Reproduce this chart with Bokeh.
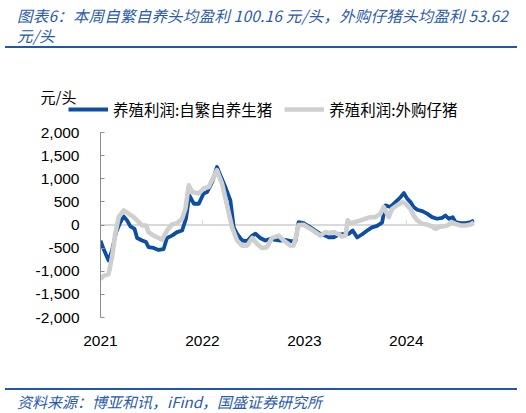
import pandas as pd
from bokeh.plotting import figure
from bokeh.models import (Range1d, FixedTicker, NumeralTickFormatter, DatetimeTickFormatter,
                          Span, Legend, LegendItem, Label, Div, ColumnDataSource)
from bokeh.layouts import column
from bokeh.embed import file_html
from bokeh.resources import INLINE

# ---------------- data ----------------
title_line1 = "图表6：本周自繁自养头均盈利 100.16 元/头，外购仔猪头均盈利 53.62"
title_line2 = "元/头"
source_text = "资料来源：博亚和讯，iFind，国盛证券研究所"
unit_label = "元/头"
series_names = ["养殖利润:自繁自养生猪", "养殖利润:外购仔猪"]

blue_dates = ["2021-01-01", "2021-01-12", "2021-01-30", "2021-02-11", "2021-02-26", "2021-03-13",
              "2021-03-25", "2021-04-06", "2021-04-18", "2021-05-03", "2021-05-12", "2021-05-30",
              "2021-06-13", "2021-06-22", "2021-07-10", "2021-07-28", "2021-08-15", "2021-08-27",
              "2021-09-14", "2021-10-02", "2021-10-20", "2021-11-03", "2021-11-15", "2021-12-01",
              "2021-12-19",
              "2022-01-05", "2022-01-18", "2022-02-05", "2022-02-22", "2022-03-06", "2022-03-24",
              "2022-04-11", "2022-04-23", "2022-05-05", "2022-05-23", "2022-06-10", "2022-06-28",
              "2022-07-10", "2022-07-27", "2022-08-14", "2022-09-01", "2022-09-19", "2022-10-07",
              "2022-10-25", "2022-11-12", "2022-11-30", "2022-12-11", "2022-12-29",
              "2023-01-23", "2023-02-09", "2023-02-27", "2023-03-17", "2023-03-29", "2023-04-16",
              "2023-05-04", "2023-05-16", "2023-05-28", "2023-06-09", "2023-06-23", "2023-07-09",
              "2023-07-27", "2023-08-14", "2023-08-31", "2023-09-18", "2023-10-06", "2023-10-18",
              "2023-11-05", "2023-11-23", "2023-12-11", "2023-12-23",
              "2024-01-04", "2024-01-16", "2024-01-27", "2024-02-09", "2024-02-27", "2024-03-15",
              "2024-04-02", "2024-04-20", "2024-05-08", "2024-05-20", "2024-06-01", "2024-06-15",
              "2024-06-25", "2024-07-13", "2024-07-31", "2024-08-18", "2024-08-30"]
blue_vals = [-340, -520, -770, -555, -155, 60, 185, 100, -30, -85, -280, -335, -370, -480, -495,
             -540, -520, -280, -230, -155, -120, 135, 640, 460, 460,
             680, 715, 930, 1255, 1075, 820, 530, -50, -190, -335, -350, -230, -190, -280, -335,
             -300, -320, -335, -320, -350, -350, 60, 40,
             -50, -120, -190, -230, -265, -265, -205, -200, -190, -190, -120, -270, -200, -120,
             -50, -20, 50, 425, 390, 495, 600, 690,
             570, 495, 390, 330, 300, 245, 170, 135, 155, 205, 135, 170, 60, 40, 40, 60, 100]

gray_dates = ["2021-01-01", "2021-01-12", "2021-01-30", "2021-02-11", "2021-02-23", "2021-03-07",
              "2021-03-25", "2021-04-11", "2021-04-30", "2021-05-12", "2021-05-30", "2021-06-13",
              "2021-06-22", "2021-07-10", "2021-07-28", "2021-08-09", "2021-08-27", "2021-09-14",
              "2021-10-02", "2021-10-20", "2021-11-01", "2021-11-13", "2021-11-25", "2021-12-19",
              "2022-01-05", "2022-01-23", "2022-02-10", "2022-02-22", "2022-03-12", "2022-03-30",
              "2022-04-17", "2022-05-05", "2022-05-23", "2022-06-10", "2022-06-28", "2022-07-16",
              "2022-08-02", "2022-08-20", "2022-09-07", "2022-10-01", "2022-10-19", "2022-11-12",
              "2022-11-23", "2022-11-30", "2022-12-11", "2022-12-29",
              "2023-01-23", "2023-02-09", "2023-02-27", "2023-03-17", "2023-03-29", "2023-04-16",
              "2023-04-29", "2023-05-16", "2023-05-28", "2023-06-05", "2023-06-14", "2023-06-23",
              "2023-07-21", "2023-08-07", "2023-08-25", "2023-09-12", "2023-09-30", "2023-10-12",
              "2023-10-30", "2023-11-11", "2023-11-29", "2023-12-17", "2023-12-29",
              "2024-01-04", "2024-01-16", "2024-01-27", "2024-02-09", "2024-02-27", "2024-03-15",
              "2024-04-02", "2024-04-14", "2024-04-26", "2024-05-08", "2024-05-26", "2024-06-13",
              "2024-06-25", "2024-07-13", "2024-07-31", "2024-08-18", "2024-08-30"]
gray_vals = [-1170, -1100, -1060, -700, -190, 170, 315, 245, 170, 100, -10, -10, -155, -230, -280,
             -320, -120, 10, 40, 135, 350, 860, 715, 680,
             790, 820, 1040, 1185, 895, 425, -50, -335, -445, -445, -280, -410, -495, -480, -280,
             -230, -335, -445, -440, -300, 0, 5,
             -85, -155, -230, -155, -175, -155, -190, -250, -230, 100, 40, 50, 100, 135, 170, 170,
             245, 390, 170, 350, 425, 495, 460,
             425, 350, 205, 100, 25, 10, -30, -85, -50, -30, -10, 60, 25, -10, -10, 10, 55]

x_start = "2021-01-01"
x_end = "2024-09-01"
year_ticks = ["2021-01-01", "2022-01-01", "2023-01-01", "2024-01-01"]
y_ticks = [-2000, -1500, -1000, -500, 0, 500, 1000, 1500, 2000]

# ---------------- styling ----------------
BLUE = "#0b4ea2"
GRAY = "#cfcfcf"
TITLE_BLUE = "#2a5bab"
RULE_BLUE = "#2257a6"
CJK = "Noto Sans CJK SC"
NUM = "Liberation Sans"
W = 520
NAN = float("nan")

# ---------------- header strip: unit label + legend ----------------
hdr = figure(width=W, height=74, output_backend="svg", toolbar_location=None,
             x_axis_location=None, y_axis_location=None,
             x_range=Range1d(0, 1), y_range=Range1d(0, 1),
             min_border=0, min_border_left=0, min_border_right=0,
             min_border_top=0, min_border_bottom=0)
hdr.frame_align = False
hdr.outline_line_color = None
hdr.grid.grid_line_color = None
hdr.border_fill_color = "white"
hdr.background_fill_color = "white"

# legend keys only (no data points of their own)
h_b = hdr.line(x=[NAN], y=[NAN], line_color=BLUE, line_width=4)
h_g = hdr.line(x=[NAN], y=[NAN], line_color=GRAY, line_width=4.5)

legend = Legend(items=[LegendItem(label=series_names[0], renderers=[h_b]),
                       LegendItem(label=series_names[1], renderers=[h_g])],
                location=(68, 2), orientation="horizontal",
                glyph_width=40, glyph_height=20, label_standoff=5, spacing=12,
                padding=0, margin=0, border_line_color=None, background_fill_alpha=0,
                label_text_font=CJK, label_text_font_size="15.5px", label_text_color="#000000",
                label_height=20)
hdr.add_layout(legend)
hdr.add_layout(Label(x=40, y=26, x_units="screen", y_units="screen", text=unit_label,
                     text_font=CJK, text_font_size="15px", text_baseline="middle",
                     text_color="#000000"))

# ---------------- main chart ----------------
src_b = ColumnDataSource(dict(x=pd.to_datetime(blue_dates), y=blue_vals))
src_g = ColumnDataSource(dict(x=pd.to_datetime(gray_dates), y=gray_vals))

p = figure(width=W, height=258, x_axis_type="datetime", output_backend="svg",
           toolbar_location=None,
           x_range=Range1d(pd.Timestamp(x_start), pd.Timestamp(x_end)),
           y_range=Range1d(-2000, 2000),
           min_border_left=100, min_border_right=W - 474, min_border_top=10,
           min_border_bottom=63)
p.frame_align = False
p.outline_line_color = None
p.grid.grid_line_color = None
p.background_fill_color = "white"
p.border_fill_color = "white"

zero = Span(location=0, dimension="width", line_color="#d9d9d9", line_width=2, level="underlay")
p.add_layout(zero)

tick_ts = [pd.Timestamp(t) for t in year_ticks]
p.segment(x0=tick_ts[1:], x1=tick_ts[1:], y0=[0] * 3, y1=[110] * 3,
          line_color="#d9d9d9", line_width=1, level="underlay")

r_b = p.line("x", "y", source=src_b, line_color=BLUE, line_width=3.8, line_join="round")
r_g = p.line("x", "y", source=src_g, line_color=GRAY, line_width=4.6, line_join="round")

p.yaxis.ticker = FixedTicker(ticks=y_ticks)
p.yaxis.formatter = NumeralTickFormatter(format="0,0")
p.yaxis.axis_line_color = "#8c8c8c"
p.yaxis.major_tick_line_color = "#8c8c8c"
p.yaxis.major_tick_in = 4
p.yaxis.major_tick_out = 0
p.yaxis.minor_tick_line_color = None
p.yaxis.major_label_standoff = 21
p.yaxis.major_label_text_font = NUM
p.yaxis.major_label_text_font_size = "15.5px"
p.yaxis.major_label_text_color = "#000000"

p.xaxis.ticker = FixedTicker(ticks=[t.value // 10**6 for t in tick_ts])
p.xaxis.formatter = DatetimeTickFormatter(years="%Y", months="%Y", days="%Y", hours="%Y",
                                          minutes="%Y", seconds="%Y", milliseconds="%Y")
p.xaxis.axis_line_color = None
p.xaxis.major_tick_line_color = None
p.xaxis.minor_tick_line_color = None
p.xaxis.major_label_standoff = 12
p.xaxis.major_label_text_font = NUM
p.xaxis.major_label_text_font_size = "15.5px"
p.xaxis.major_label_text_color = "#000000"

# ---------------- title and source ----------------
title_html = (
    '<div style="box-sizing:border-box;width:512px;height:48px;margin-left:5px;'
    'padding:5px 0 0 12px;border-bottom:2px solid %s;font-family:\'Noto Sans CJK SC\';'
    'font-style:italic;font-size:15.5px;letter-spacing:0.2px;line-height:20px;color:%s;'
    'white-space:nowrap;">%s<br>%s</div>' % (RULE_BLUE, TITLE_BLUE, title_line1, title_line2))
title_div = Div(text=title_html, width=W, height=48, margin=0)

footer_html = (
    '<div style="box-sizing:border-box;width:512px;margin:8px 0 0 5px;padding:4px 0 0 12px;'
    'border-top:2px solid %s;font-family:\'Noto Sans CJK SC\';font-style:italic;'
    'font-size:15px;line-height:16px;color:%s;white-space:nowrap;">%s</div>'
    % (RULE_BLUE, TITLE_BLUE, source_text))
footer_div = Div(text=footer_html, width=W, height=30, margin=0)

layout = column(title_div, hdr, p, footer_div, spacing=0)

with open("out.html", "w") as f:
    f.write(file_html(layout, INLINE))
